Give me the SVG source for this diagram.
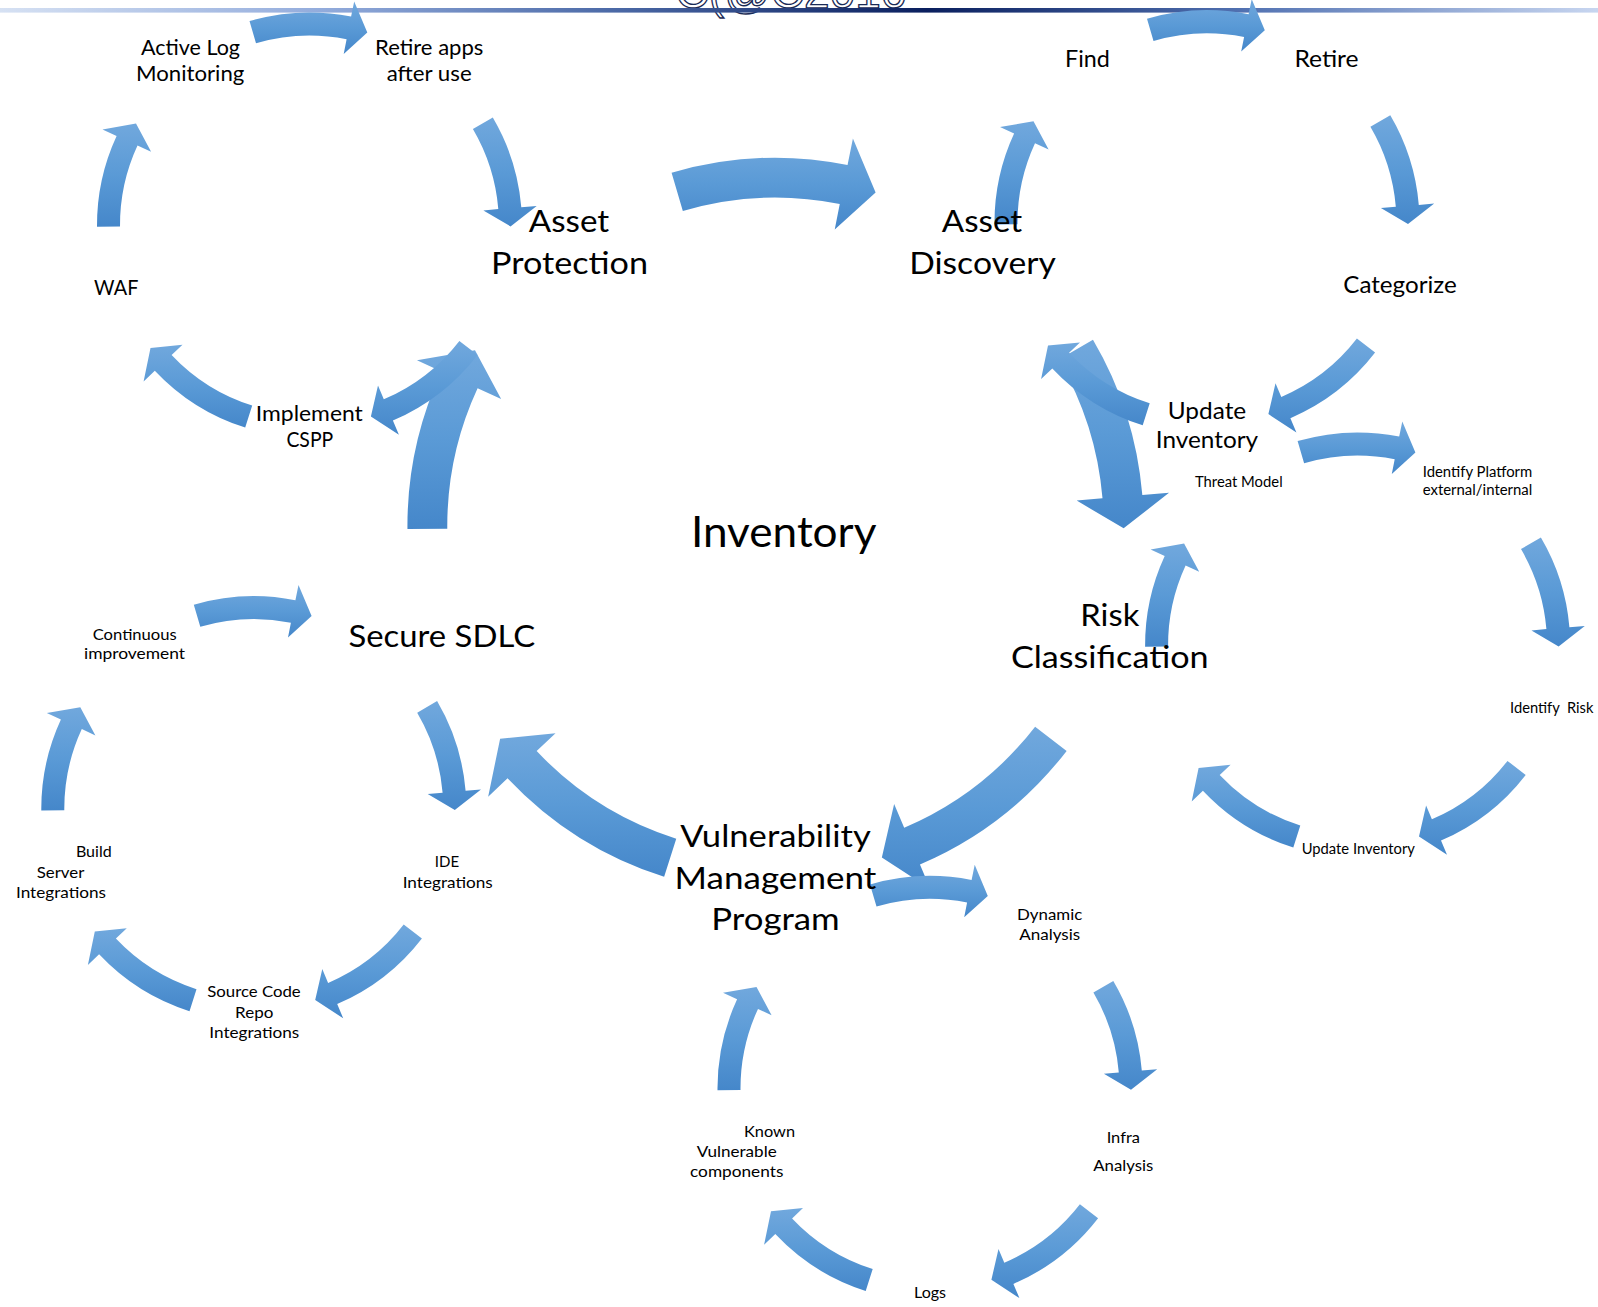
<svg xmlns="http://www.w3.org/2000/svg" xmlns:xlink="http://www.w3.org/1999/xlink" width="1598" height="1307" viewBox="0 0 1598 1307">
  <style>
    .t { font-family: Lato, "Open Sans", "Liberation Sans", sans-serif; fill: #000; text-anchor: middle; }
    .big { font-size: 31px; }
    .inv { font-size: 43px; }
    .ap { font-size: 21px; }
    .ad { font-size: 23px; }
    .sm { font-size: 16px; }
    .rc { font-size: 15.5px; }
    .arw { fill: url(#arrowFill); }
    .banner { font-family: "Liberation Sans", sans-serif; font-size: 46px; fill: #fff; stroke: #1a2a55; stroke-width: 1.3; text-anchor: middle; }
  </style>
  <defs>
    <linearGradient id="arrowFill" x1="0" y1="0" x2="0" y2="1">
      <stop offset="0" stop-color="#71a8dd"/>
      <stop offset="0.5" stop-color="#5a9ad6"/>
      <stop offset="1" stop-color="#4587ca"/>
    </linearGradient>
    <linearGradient id="barFill" x1="0" y1="0" x2="1" y2="0">
      <stop offset="0" stop-color="#d6e1f3"/>
      <stop offset="0.2" stop-color="#93acdc"/>
      <stop offset="0.38" stop-color="#4d6ba8"/>
      <stop offset="0.58" stop-color="#0a1f5e"/>
      <stop offset="0.78" stop-color="#5272b2"/>
      <stop offset="1" stop-color="#c8d6f0"/>
    </linearGradient>
    <!-- one five-arrow clockwise ring, centre (309.5,225), mid radius 201 -->
    <g id="ring">
      <path class="arw" d="M249.5,21.1 A212.5,212.5 0 0 1 351.1,16.6 L354.2,1.4 L367.3,32.5 L343.7,53.9 L346.6,39.2 A189.5,189.5 0 0 0 256,43.2 Z"/>
      <path class="arw" d="M492.8,117.5 A212.5,212.5 0 0 1 521.3,207.2 L536.7,205.9 L510.5,226.4 L483.4,210.4 L498.3,209.1 A189.5,189.5 0 0 0 472.9,129.1 Z"/>
      <path class="arw" d="M477.6,354.9 A212.5,212.5 0 0 1 392.9,420.5 L398.9,434.7 L370.9,416.4 L378,385.5 L383.8,399.3 A189.5,189.5 0 0 0 459.4,340.9 Z"/>
      <path class="arw" d="M245.2,427.6 A212.5,212.5 0 0 1 154.8,370.7 L143.6,381.4 L150.5,347.9 L182.5,344.7 L171.6,355 A189.5,189.5 0 0 0 252.2,405.6 Z"/>
      <path class="arw" d="M97,226.8 A212.5,212.5 0 0 1 116.6,135.9 L102.5,129.4 L136,123.6 L151.1,151.8 L137.5,145.5 A189.5,189.5 0 0 0 120,226.6 Z"/>
    </g>
  </defs>

  <rect width="1598" height="1307" fill="#fff"/>

  <!-- header strip -->
  <g id="header">
    <text class="banner" x="791" y="8">C(@C2016</text>
    <rect x="0" y="8" width="1598" height="4.6" fill="url(#barFill)"/>
  </g>

  <g id="connectors">
    <!-- main ring around Inventory -->
    <use xlink:href="#ring" transform="translate(775.5,525.9) scale(1.732) translate(-309.5,-225)"/>
    <!-- Asset Protection ring -->
    <use xlink:href="#ring"/>
    <!-- Asset Discovery ring -->
    <use xlink:href="#ring" transform="translate(897.5,-2.3)"/>
    <!-- Secure SDLC ring -->
    <use xlink:href="#ring" transform="translate(-55.7,583.6)"/>
    <!-- Risk Classification ring -->
    <use xlink:href="#ring" transform="translate(1048.1,420)"/>
    <!-- Vulnerability Management ring -->
    <use xlink:href="#ring" transform="translate(620.5,863.4)"/>
  </g>

  <g id="inventory"><text class="t inv" x="783.7" y="547" textLength="185.5" lengthAdjust="spacingAndGlyphs">Inventory</text></g>

  <g id="asset-protection">
    <text class="t big" x="569" y="232" textLength="80.5" lengthAdjust="spacingAndGlyphs">Asset</text>
    <text class="t big" x="569.5" y="274" textLength="157" lengthAdjust="spacingAndGlyphs">Protection</text>
  </g>
  <g id="asset-discovery">
    <text class="t big" x="982" y="232" textLength="80.5" lengthAdjust="spacingAndGlyphs">Asset</text>
    <text class="t big" x="982.5" y="274" textLength="146.7" lengthAdjust="spacingAndGlyphs">Discovery</text>
  </g>
  <g id="risk-classification">
    <text class="t big" x="1109.8" y="625.5" textLength="59" lengthAdjust="spacingAndGlyphs">Risk</text>
    <text class="t big" x="1109.8" y="667.5" textLength="197.7" lengthAdjust="spacingAndGlyphs">Classification</text>
  </g>
  <g id="vulnerability-management">
    <text class="t big" x="775.5" y="847" textLength="190.6" lengthAdjust="spacingAndGlyphs">Vulnerability</text>
    <text class="t big" x="775.5" y="888.5" textLength="201.8" lengthAdjust="spacingAndGlyphs">Management</text>
    <text class="t big" x="775.5" y="930" textLength="128.4" lengthAdjust="spacingAndGlyphs">Program</text>
  </g>
  <g id="secure-sdlc">
    <text class="t big" x="441.8" y="646.5" textLength="186.7" lengthAdjust="spacingAndGlyphs">Secure SDLC</text>
  </g>

  <!-- Asset Protection ring labels -->
  <g id="active-log">
    <text class="t ap" x="190.5" y="55" textLength="99" lengthAdjust="spacingAndGlyphs">Active Log</text>
    <text class="t ap" x="190.2" y="81" textLength="108.3" lengthAdjust="spacingAndGlyphs">Monitoring</text>
  </g>
  <g id="retire-apps">
    <text class="t ap" x="429.2" y="55" textLength="108.3" lengthAdjust="spacingAndGlyphs">Retire apps</text>
    <text class="t ap" x="429.2" y="81" textLength="85" lengthAdjust="spacingAndGlyphs">after use</text>
  </g>
  <g id="waf"><text class="t ap" x="116.2" y="295" textLength="44.3" lengthAdjust="spacingAndGlyphs">WAF</text></g>
  <g id="implement-cspp">
    <text class="t ap" x="309.3" y="421" textLength="107" lengthAdjust="spacingAndGlyphs">Implement</text>
    <text class="t ap" x="309.8" y="447" textLength="46.8" lengthAdjust="spacingAndGlyphs">CSPP</text>
  </g>

  <!-- Asset Discovery ring labels -->
  <g id="find"><text class="t ad" x="1087.5" y="66.5" textLength="44.8" lengthAdjust="spacingAndGlyphs">Find</text></g>
  <g id="retire"><text class="t ad" x="1326.5" y="66.5" textLength="64.2" lengthAdjust="spacingAndGlyphs">Retire</text></g>
  <g id="categorize"><text class="t ad" x="1400" y="293.3" textLength="113.4" lengthAdjust="spacingAndGlyphs">Categorize</text></g>
  <g id="update-inventory-1">
    <text class="t ad" x="1207" y="419.3" textLength="78.4" lengthAdjust="spacingAndGlyphs">Update</text>
    <text class="t ad" x="1207" y="448.3" textLength="102.3" lengthAdjust="spacingAndGlyphs">Inventory</text>
  </g>

  <!-- Risk Classification ring labels -->
  <g id="threat-model"><text class="t rc" x="1238.8" y="486.7" textLength="87.7" lengthAdjust="spacingAndGlyphs">Threat Model</text></g>
  <g id="identify-platform">
    <text class="t rc" x="1477.5" y="476.7" textLength="109.6" lengthAdjust="spacingAndGlyphs">Identify Platform</text>
    <text class="t rc" x="1477.5" y="495" textLength="109.6" lengthAdjust="spacingAndGlyphs">external/internal</text>
  </g>
  <g id="identify-risk"><text class="t rc" x="1551.7" y="713.3" textLength="83.3" lengthAdjust="spacingAndGlyphs" style="white-space:pre">Identify  Risk</text></g>
  <g id="update-inventory-2"><text class="t rc" x="1358.3" y="854" textLength="113.3" lengthAdjust="spacingAndGlyphs">Update Inventory</text></g>

  <!-- Secure SDLC ring labels -->
  <g id="continuous-improvement">
    <text class="t sm" x="134.7" y="640" textLength="84" lengthAdjust="spacingAndGlyphs">Continuous</text>
    <text class="t sm" x="134.5" y="659.3" textLength="101" lengthAdjust="spacingAndGlyphs">improvement</text>
  </g>
  <g id="build-server">
    <text class="t sm" x="93.8" y="856.7" textLength="35.7" lengthAdjust="spacingAndGlyphs">Build</text>
    <text class="t sm" x="60.5" y="877.7" textLength="47.6" lengthAdjust="spacingAndGlyphs">Server</text>
    <text class="t sm" x="61" y="898" textLength="90" lengthAdjust="spacingAndGlyphs">Integrations</text>
  </g>
  <g id="ide-integrations">
    <text class="t sm" x="447" y="867.3" textLength="24.3" lengthAdjust="spacingAndGlyphs">IDE</text>
    <text class="t sm" x="447.7" y="888.3" textLength="90" lengthAdjust="spacingAndGlyphs">Integrations</text>
  </g>
  <g id="source-code-repo">
    <text class="t sm" x="254" y="997.3" textLength="93.4" lengthAdjust="spacingAndGlyphs">Source Code</text>
    <text class="t sm" x="254.2" y="1017.5" textLength="38.3" lengthAdjust="spacingAndGlyphs">Repo</text>
    <text class="t sm" x="254.3" y="1037.7" textLength="90" lengthAdjust="spacingAndGlyphs">Integrations</text>
  </g>

  <!-- Vulnerability Management ring labels -->
  <g id="dynamic-analysis">
    <text class="t sm" x="1049.7" y="920" textLength="65.2" lengthAdjust="spacingAndGlyphs">Dynamic</text>
    <text class="t sm" x="1049.7" y="940" textLength="61" lengthAdjust="spacingAndGlyphs">Analysis</text>
  </g>
  <g id="infra-analysis">
    <text class="t sm" x="1123.3" y="1143.3" textLength="33.3" lengthAdjust="spacingAndGlyphs">Infra</text>
    <text class="t sm" x="1123.3" y="1170.7" textLength="60" lengthAdjust="spacingAndGlyphs">Analysis</text>
  </g>
  <g id="logs"><text class="t sm" x="930" y="1298.3" textLength="32" lengthAdjust="spacingAndGlyphs">Logs</text></g>
  <g id="known-vulnerable">
    <text class="t sm" x="769.5" y="1136.7" textLength="51" lengthAdjust="spacingAndGlyphs">Known</text>
    <text class="t sm" x="736.7" y="1157.3" textLength="80" lengthAdjust="spacingAndGlyphs">Vulnerable</text>
    <text class="t sm" x="736.7" y="1177.3" textLength="93.3" lengthAdjust="spacingAndGlyphs">components</text>
  </g>
</svg>
